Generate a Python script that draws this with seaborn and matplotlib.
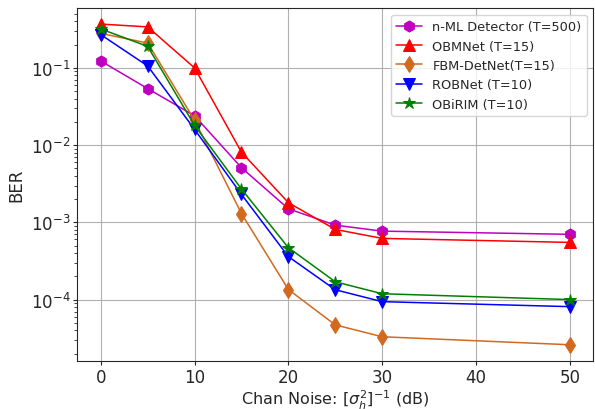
import matplotlib
matplotlib.use("Agg")
import matplotlib.pyplot as plt
import seaborn as sns
import pandas as pd

snr = [0, 5, 10, 15, 20, 25, 30, 50]
nml = [0.123, 0.054, 0.024, 0.0051, 0.0015, 0.00092, 0.00077, 0.00070]
obmnet = [0.37, 0.34, 0.10, 0.0081, 0.0018, 0.00081, 0.00062, 0.00055]
fbm = [0.28, 0.21, 0.021, 0.0013, 0.000135, 4.7e-5, 3.3e-5, 2.6e-5]
robnet = [0.27, 0.106, 0.016, 0.0023, 0.00036, 0.000134, 9.4e-5, 8.1e-5]
obirim = [0.32, 0.19, 0.018, 0.0027, 0.00047, 0.00017, 0.000119, 1.0e-4]

labels = ["n-ML Detector (T=500)", "OBMNet (T=15)", "FBM-DetNet(T=15)",
          "ROBNet (T=10)", "OBiRIM (T=10)"]
series = [nml, obmnet, fbm, robnet, obirim]
colors = ["m", "r", "chocolate", "b", "g"]
markers = ["h", "^", "d", "v", "*"]
msizes = [8, 9, 8, 8, 9]

sns.set_style("ticks")
fig, ax = plt.subplots(figsize=(5.95, 4.1), dpi=100)
for lab, ys, c, m, ms in zip(labels, series, colors, markers, msizes):
    df = pd.DataFrame({"x": snr, "y": ys})
    sns.lineplot(data=df, x="x", y="y", ax=ax, color=c, marker=m,
                 markersize=ms, markeredgecolor=c, linewidth=1.1, label=lab)
ax.set_yscale("log")
ax.grid(True, which="major", color="#b0b0b0", linewidth=0.8)
ax.set_xlabel(r"Chan Noise: $[\sigma_h^2]^{-1}$ (dB)", fontsize=11.5, labelpad=1)
ax.set_ylabel("BER", fontsize=12)
ax.tick_params(labelsize=12, length=3, pad=2)
ax.set_ylim(1.6e-5, 0.59)
ax.legend(loc="upper right", fontsize=9.3, framealpha=0.8, borderaxespad=0.5)
fig.subplots_adjust(left=0.13, right=0.997, top=0.977, bottom=0.117)
fig.savefig("out.png", dpi=100)
